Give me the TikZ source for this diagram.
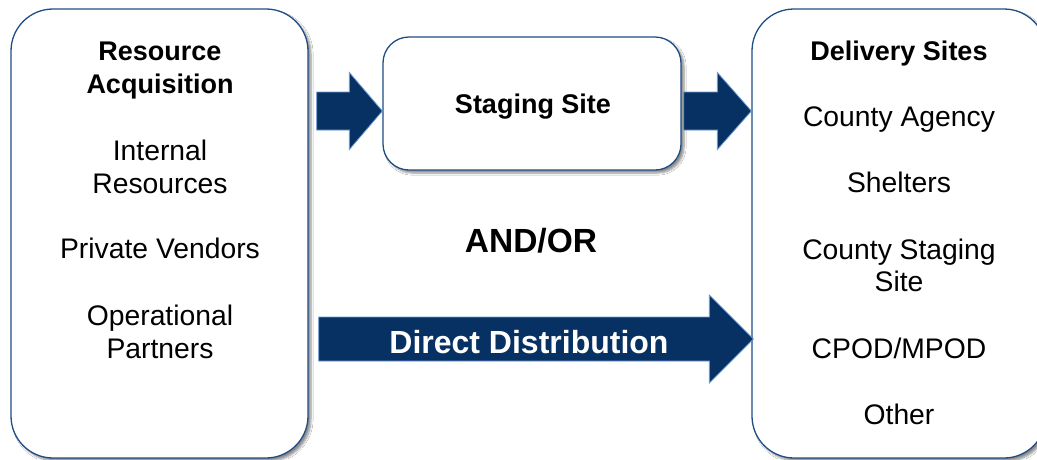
\documentclass[tikz,border=0pt]{standalone}
\usepackage{fontspec}
\setmainfont{Liberation Sans}
\usetikzlibrary{calc,shadows.blur}

\definecolor{navy}{HTML}{083163}
\definecolor{boxline}{HTML}{1F4E86}
\definecolor{arrowedge}{HTML}{6A9AD6}

\tikzset{
  panel/.style={draw=boxline, line width=1.3pt, fill=white, rounded corners=42pt,
    inner sep=0pt,
    blur shadow={shadow xshift=3pt, shadow yshift=-3pt, shadow blur steps=6, shadow opacity=45}},
  stagebox/.style={panel, rounded corners=26pt},
  head/.style={font=\bfseries\fontsize{27}{33}\selectfont, anchor=base, inner sep=0pt},
  item/.style={font=\fontsize{28.3}{33}\selectfont, anchor=base, inner sep=0pt},
  bigtext/.style={font=\bfseries\fontsize{33.5}{36}\selectfont, anchor=base, inner sep=0pt},
  blockfill/.style={fill=navy, draw=arrowedge, line width=0.8pt},
}

% block arrow from #1 to #2: shaft half-width #3, head half-width #4, head length #5
\newcommand\blockarrow[5]{%
  \path let \p1=(#1), \p2=(#2) in [blockfill]
    (\x1,\y1+#3) -- (\x2-#5,\y1+#3) -- (\x2-#5,\y1+#4) -- (\x2,\y1)
    -- (\x2-#5,\y1-#4) -- (\x2-#5,\y1-#3) -- (\x1,\y1-#3) -- cycle;}

\begin{document}
\begin{tikzpicture}[x=1pt, y=-1pt]
\clip (0,0) rectangle (1037,459);
\fill[white] (0,0) rectangle (1037,459);

% the three boxes
\node[panel, minimum width=297pt, minimum height=449pt] (acq) at (159.5,233.5) {};
\node[stagebox, minimum width=298pt, minimum height=133pt] (stage) at (532,103.5) {};
\node[panel, minimum width=294pt, minimum height=449pt] (deliv) at (899,233.5) {};

% left column
\node[head] (acq1) at (160,60) {Resource};
\node[head] (acq2) at (160,93) {Acquisition};
\node[item] (int1) at (160,160) {Internal};
\node[item] (int2) at (160,193) {Resources};
\node[item] (priv) at (160,258) {Private Vendors};
\node[item] (op1) at (160,325) {Operational};
\node[item] (op2) at (160,358) {Partners};

% right column
\node[head] (dhead) at (899,60) {Delivery Sites};
\node[item] (cagency) at (899,126) {County Agency};
\node[item] (shelt) at (899,192) {Shelters};
\node[item] (cstage1) at (899,259) {County Staging};
\node[item] (cstage2) at (899,291) {Site};
\node[item] (cpod) at (899,358) {CPOD/MPOD};
\node[item] (other) at (899,424) {Other};

% middle
\node[head] (stagetxt) at (533,113) {Staging Site};
\node[bigtext] (andor) at (531,252) {AND/OR};

% connectors
\coordinate (a1s) at ($(acq.east)+(8,0)$);
\coordinate (a1t) at (stage.west);
\coordinate (a1s') at (a1s |- 0,111);
\coordinate (a1t') at (a1t |- 0,111);
\blockarrow{a1s'}{a1t'}{19pt}{38.5pt}{33pt}

\coordinate (a2s) at ($(stage.east)+(2,0)$);
\coordinate (a2s') at (a2s |- 0,111);
\coordinate (a2t') at (deliv.west |- 0,111);
\blockarrow{a2s'}{a2t'}{19pt}{38.5pt}{34pt}

\coordinate (dds) at ($(acq.east |- 0,339)+(10,0)$);
\coordinate (ddt) at ($(deliv.west |- 0,339)+(2,0)$);
\blockarrow{dds}{ddt}{22pt}{44pt}{44pt}
\node[bigtext, font=\bfseries\fontsize{32}{36}\selectfont, text=white] (ddtxt) at (529,353) {Direct Distribution};
\end{tikzpicture}
\end{document}
